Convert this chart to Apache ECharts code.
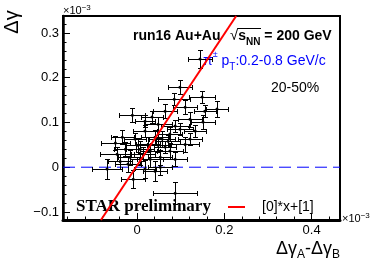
<!DOCTYPE html>
<html><head><meta charset="utf-8">
<script src="https://cdn.jsdelivr.net/npm/echarts@6/dist/echarts.min.js"></script>
<style>html,body{margin:0;padding:0;background:#fff}#c{width:374px;height:263px}</style>
</head><body><div id="c"></div>
<script>
// values in units of 1e-3
const pointsX = [0.144,0.098,0.149,0.085,0.183,-0.011,0.034,0.110,0.151,0.087,0.064,0.048,0.018,-0.050,-0.046,-0.069,0.087,-0.009,0.041,0.007,0.025,0.041,0.057,0.075,0.098,0.121,0.133,0.110,0.075,0.053,0.030,0.007,-0.016,-0.027,-0.005,0.018,0.064,0.087,0.053,0.018,-0.021,-0.039,0.030,0.048,0.071,0.002,0.014,0.121,0.155,-0.034];
const pointsY = [0.242,0.179,0.157,0.152,0.130,0.116,0.112,0.134,0.101,0.092,0.125,0.096,0.103,0.054,0.029,-0.004,-0.058,-0.027,-0.009,0.040,0.051,0.067,0.063,0.074,0.085,0.107,0.081,0.051,0.036,0.022,0.018,0.018,0.022,0.040,0.063,0.081,0.045,0.018,0.000,-0.004,0.007,0.013,0.036,0.049,0.058,0.049,0.029,0.063,0.125,0.067];
const errX = [0.027,0.027,0.030,0.037,0.025,0.030,0.025,0.027,0.027,0.032,0.027,0.032,0.023,0.034,0.039,0.034,0.050,0.027,0.027,0.032,0.027,0.032,0.030,0.027,0.030,0.027,0.025,0.032,0.030,0.027,0.030,0.023,0.027,0.025,0.025,0.027,0.025,0.027,0.027,0.025,0.030,0.027,0.023,0.025,0.027,0.027,0.027,0.027,0.025,0.027];
const errY = [0.020,0.016,0.013,0.013,0.018,0.016,0.013,0.016,0.016,0.013,0.016,0.016,0.013,0.016,0.016,0.022,0.025,0.020,0.022,0.018,0.016,0.016,0.018,0.016,0.013,0.016,0.013,0.016,0.018,0.016,0.018,0.013,0.016,0.016,0.013,0.013,0.013,0.016,0.018,0.020,0.018,0.016,0.013,0.016,0.013,0.016,0.016,0.013,0.013,0.016];
const fitX = [-0.083, 0.227];
const fitY = [-0.118, 0.338];
const fitName = '[0]*x+[1]';
const zeroLineX = [-0.17, 0.465];
const zeroLineY = [0, 0];
const xMajorTicks = [0, 0.2, 0.4];
const xMinorTicks = [-0.16,-0.12,-0.08,-0.04,0.04,0.08,0.12,0.16,0.24,0.28,0.32,0.36,0.44];
const yMajorTicks = [-0.1, 0, 0.1, 0.2, 0.3];
const yMinorTicks = [-0.08,-0.06,-0.04,-0.02,0.02,0.04,0.06,0.08,0.12,0.14,0.16,0.18,0.22,0.24,0.26,0.28,0.32];

const SANS = '"Liberation Sans", Arial, sans-serif';
const fmt = v => v === 0 ? '0' : (v < 0 ? '−' : '') + Math.abs(v).toFixed(1);
const XMIN = -0.17, XMAX = 0.465, YMIN = -0.118, YMAX = 0.338;

const pts = pointsX.map((x, i) => [x, pointsY[i], errX[i], errY[i]]);
const fitData = fitX.map((x, i) => [x, fitY[i]]);
const zeroData = zeroLineX.map((x, i) => [x, zeroLineY[i]]);

const chart = echarts.init(document.getElementById('c'), null, {renderer: 'canvas'});
function majorAxis(isX, ticks) {
  return {
    type: 'value', min: isX ? XMIN : YMIN, max: isX ? XMAX : YMAX,
    position: isX ? 'bottom' : 'left',
    axisLine: {show: true, onZero: false, lineStyle: {color: '#000', width: isX ? 3 : 2.5}},
    axisTick: {show: true, inside: true, length: 7, customValues: ticks, lineStyle: {color: '#000', width: 1}},
    axisLabel: {show: true, customValues: ticks, formatter: fmt, fontSize: 13, fontFamily: SANS, color: '#000', margin: 4},
    splitLine: {show: false}
  };
}
function minorAxis(isX, ticks) {
  return {
    type: 'value', min: isX ? XMIN : YMIN, max: isX ? XMAX : YMAX,
    position: isX ? 'bottom' : 'left',
    axisLine: {show: false, onZero: false},
    axisTick: {show: true, inside: true, length: 3.5, customValues: ticks, lineStyle: {color: '#000', width: 1}},
    axisLabel: {show: false},
    splitLine: {show: false}
  };
}

chart.setOption({
  animation: false,
  backgroundColor: '#fff',
  grid: {left: 63, right: 34, top: 16, bottom: 43, show: true, borderColor: '#000', borderWidth: 2, backgroundColor: 'transparent'},
  xAxis: [majorAxis(true, xMajorTicks), minorAxis(true, xMinorTicks)],
  yAxis: [majorAxis(false, yMajorTicks), minorAxis(false, yMinorTicks)],
  legend: {
    data: [{name: fitName, icon: 'rect'}],
    left: 228, top: 200, padding: 0, itemWidth: 17, itemHeight: 2,
    textStyle: {fontSize: 14, fontFamily: SANS, color: '#000', padding: [0, 0, 0, 12]},
    selectedMode: false
  },
  series: [
    {
      type: 'line', name: 'zero', data: zeroData, z: 1, silent: true, symbol: 'none',
      lineStyle: {color: '#0000ff', type: [12, 6], width: 1}, itemStyle: {color: '#0000ff'}
    },
    {
      type: 'custom', name: 'data', data: pts, z: 2, clip: true,
      encode: {x: 0, y: 1},
      renderItem: function (params, api) {
        const x = api.value(0), y = api.value(1), ex = api.value(2), ey = api.value(3);
        const c = api.coord([x, y]);
        const l = api.coord([x - ex, y]), r = api.coord([x + ex, y]);
        const t = api.coord([x, y + ey]), b = api.coord([x, y - ey]);
        const cx = Math.round(c[0]) + 0.5, cy = Math.round(c[1]) + 0.5;
        const lx = Math.round(l[0]) + 0.5, rx = Math.round(r[0]) + 0.5;
        const ty = Math.round(t[1]) + 0.5, by = Math.round(b[1]) + 0.5;
        const cap = 2.5;
        const st = {stroke: '#000', lineWidth: 1};
        return {type: 'group', children: [
          {type: 'line', shape: {x1: lx, y1: cy, x2: rx, y2: cy}, style: st},
          {type: 'line', shape: {x1: cx, y1: ty, x2: cx, y2: by}, style: st},
          {type: 'line', shape: {x1: lx, y1: cy - cap, x2: lx, y2: cy + cap}, style: st},
          {type: 'line', shape: {x1: rx, y1: cy - cap, x2: rx, y2: cy + cap}, style: st},
          {type: 'line', shape: {x1: cx - cap, y1: ty, x2: cx + cap, y2: ty}, style: st},
          {type: 'line', shape: {x1: cx - cap, y1: by, x2: cx + cap, y2: by}, style: st},
          {type: 'circle', shape: {cx: c[0], cy: c[1], r: 1.5}, style: {fill: '#000'}}
        ]};
      }
    },
    {
      type: 'line', name: fitName, data: fitData, z: 3, symbol: 'none', clip: true,
      lineStyle: {color: '#ff0000', width: 2}, itemStyle: {color: '#ff0000'}
    }
  ],
  graphic: [
    {type: 'text', x: 12, y: 22, rotation: Math.PI / 2,
      style: {text: 'Δγ', font: '20px ' + SANS, fill: '#000', align: 'center', verticalAlign: 'middle'}},
    {type: 'text', x: 63, y: 11,
      style: {text: '{a|×10}{s|−3}', align: 'left', verticalAlign: 'middle', fill: '#000',
        rich: {a: {fontSize: 11, fontFamily: SANS, lineHeight: 14}, s: {fontSize: 8, fontFamily: SANS, verticalAlign: 'top'}}}},
    {type: 'text', x: 342, y: 219,
      style: {text: '{a|×10}{s|−3}', align: 'left', verticalAlign: 'middle', fill: '#000',
        rich: {a: {fontSize: 11, fontFamily: SANS, lineHeight: 14}, s: {fontSize: 8, fontFamily: SANS, verticalAlign: 'top'}}}},
    {type: 'text', x: 340, y: 249,
      style: {text: '{b|Δγ}{s|A}{b|-Δγ}{s|B}', align: 'right', verticalAlign: 'middle', fill: '#000',
        rich: {b: {fontSize: 18, fontFamily: SANS, lineHeight: 24}, s: {fontSize: 12, fontFamily: SANS, verticalAlign: 'bottom'}}}},
    {type: 'text', x: 133, y: 36,
      style: {text: 'run16 Au+Au', font: 'bold 14px ' + SANS, fill: '#000', align: 'left', verticalAlign: 'middle'}},
    {type: 'text', x: 230, y: 36,
      style: {text: '{r|√}{b|s}{s|NN}{b| = 200 GeV}', align: 'left', verticalAlign: 'middle', fill: '#000',
        rich: {r: {fontSize: 15, fontFamily: SANS, lineHeight: 22}, b: {fontSize: 14, fontWeight: 'bold', fontFamily: SANS, lineHeight: 22},
          s: {fontSize: 10, fontWeight: 'bold', fontFamily: SANS, verticalAlign: 'bottom'}}}},
    {type: 'line', shape: {x1: 238, y1: 28.5, x2: 261, y2: 28.5}, style: {stroke: '#000', lineWidth: 1}},
    {type: 'text', x: 203, y: 61,
      style: {text: '{b|π}{p|±}{b| p}{s|T}{b|:0.2-0.8 GeV/c}', align: 'left', verticalAlign: 'middle', fill: '#0000ff',
        rich: {b: {fontSize: 14, fontFamily: SANS, lineHeight: 22, color: '#0000ff'},
          p: {fontSize: 9, fontFamily: SANS, verticalAlign: 'top', color: '#0000ff'},
          s: {fontSize: 10, fontFamily: SANS, verticalAlign: 'bottom', color: '#0000ff'}}}},
    {type: 'text', x: 271, y: 88,
      style: {text: '20-50%', font: '14px ' + SANS, fill: '#000', align: 'left', verticalAlign: 'middle'}},
    {type: 'text', x: 76, y: 207,
      style: {text: 'STAR preliminary', font: 'bold 17px "Liberation Serif", "Times New Roman", serif', fill: '#000', align: 'left', verticalAlign: 'middle'}}
  ]
});
</script></body></html>
